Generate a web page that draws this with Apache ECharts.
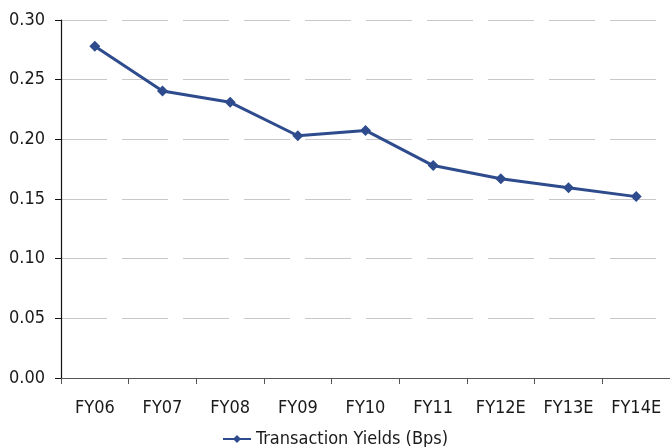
<!DOCTYPE html>
<html>
<head>
<meta charset="utf-8">
<script src="https://cdn.jsdelivr.net/npm/echarts@6/dist/echarts.min.js"></script>
<style>
  html, body { margin: 0; padding: 0; background: #fff; }
  #chart { width: 670px; height: 447px; }
</style>
</head>
<body>
<div id="chart"></div>
<script>
// Fiscal years (E = estimate)
const categories = ['FY06', 'FY07', 'FY08', 'FY09', 'FY10', 'FY11', 'FY12E', 'FY13E', 'FY14E'];
// Transaction yields in basis points
const yields = [0.278, 0.2405, 0.231, 0.203, 0.2075, 0.178, 0.167, 0.1595, 0.152];
const seriesName = 'Transaction Yields (Bps)';

const font = '"DejaVu Sans Condensed", "Liberation Sans Narrow", sans-serif';
const lineColor = '#2E4C8D';
const textColor = '#1a1a1a';

const chart = echarts.init(document.getElementById('chart'), null, { renderer: 'canvas' });
chart.setOption({
  animation: false,
  textStyle: { fontFamily: font },
  grid: { left: 61, top: 20, width: 613, height: 358, containLabel: false },
  legend: {
    bottom: -6,
    left: 'center',
    itemWidth: 28,
    itemHeight: 10,
    itemGap: 4,
    data: [seriesName],
    textStyle: { fontFamily: font, fontSize: 18, color: textColor }
  },
  xAxis: {
    type: 'category',
    data: categories,
    boundaryGap: true,
    axisLine: { lineStyle: { color: '#555', width: 1.2 } },
    axisTick: { show: true, length: 6, lineStyle: { color: '#555' } },
    axisLabel: { interval: 0, margin: 21, fontSize: 18, color: textColor, fontFamily: font }
  },
  yAxis: {
    type: 'value',
    min: 0,
    max: 0.3,
    interval: 0.05,
    axisLine: { show: true, lineStyle: { color: '#111', width: 1.2 } },
    axisTick: { show: true, length: 6, lineStyle: { color: '#111' } },
    axisLabel: {
      margin: 16, fontSize: 18, color: textColor, fontFamily: font,
      formatter: v => v.toFixed(2)
    },
    splitLine: { show: true, lineStyle: { color: '#c8c8c8', width: 1.2, type: [46, 15] } }
  },
  series: [{
    name: seriesName,
    type: 'line',
    data: yields,
    symbol: 'diamond',
    symbolSize: 11,
    lineStyle: { color: lineColor, width: 3 },
    itemStyle: { color: lineColor }
  }]
});
</script>
</body>
</html>
